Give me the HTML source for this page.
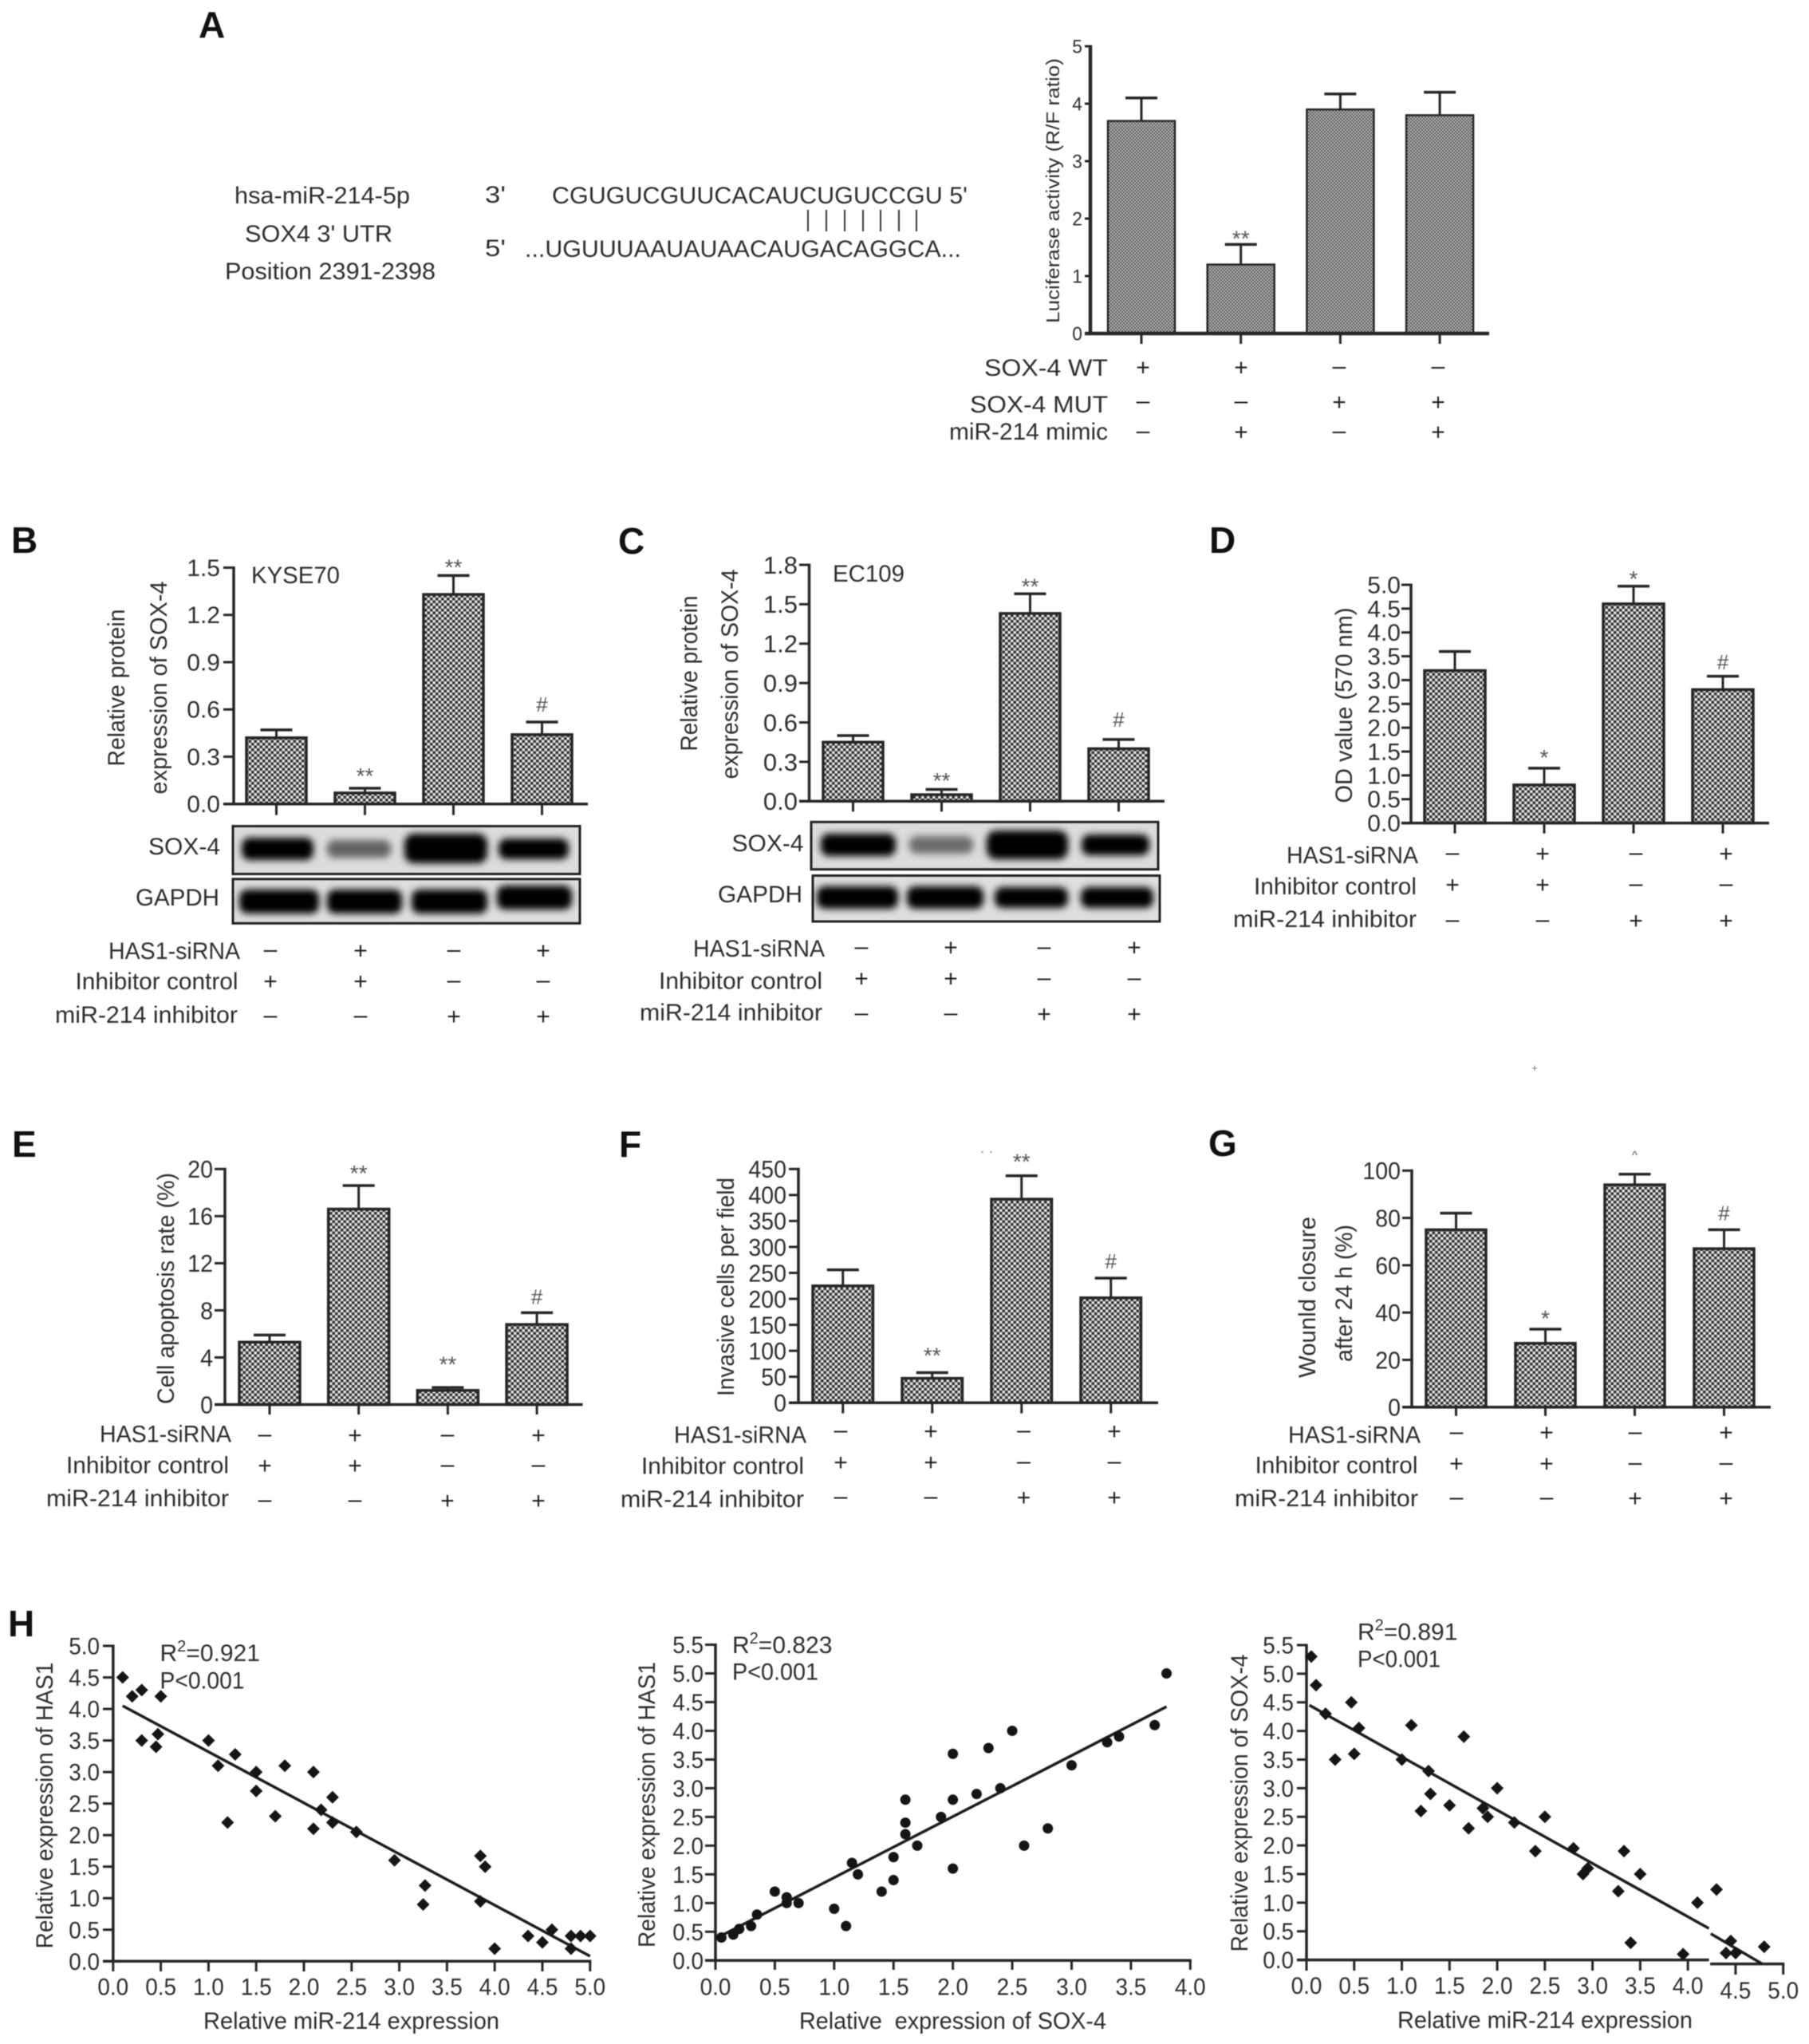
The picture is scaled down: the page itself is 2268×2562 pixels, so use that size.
<!DOCTYPE html>
<html lang="en">
<head>
<meta charset="utf-8">
<title>miR-214, SOX-4 and HAS1 figure</title>
<style>
html,body{margin:0;padding:0;background:#fff;}
#fig{display:block;width:2268px;height:2562px;filter:blur(.6px);}
text{font-family:"Liberation Sans",sans-serif;font-size:30px;fill:#2e2e2e;}
.ltr{font-weight:bold;font-size:46px;fill:#111;}
.kb{font-size:29.5px;}
</style>
</head>
<body>
<svg id="fig" xmlns="http://www.w3.org/2000/svg" width="2268" height="2562" viewBox="0 0 2268 2562">
<defs>
<pattern id="dotsCoarse" width="7" height="7" patternUnits="userSpaceOnUse">
<rect width="7" height="7" fill="#e2e2e2"/><rect width="3.5" height="3.5" fill="#343434"/><rect x="3.5" y="3.5" width="3.5" height="3.5" fill="#343434"/>
</pattern>
<pattern id="dotsFine" width="4" height="4" patternUnits="userSpaceOnUse">
<rect width="4" height="4" fill="#bcbcbc"/><rect width="2" height="2" fill="#585858"/><rect x="2" y="2" width="2" height="2" fill="#585858"/>
</pattern>
<filter id="bandBlur" x="-20%" y="-60%" width="140%" height="220%"><feGaussianBlur stdDeviation="4.6"/></filter>
</defs>
<rect width="2268" height="2562" fill="#fff"/>

<g id="panel-a">
<text class="ltr" x="249" y="47">A</text>
<text x="294" y="255" textLength="220" lengthAdjust="spacingAndGlyphs">hsa-miR-214-5p</text>
<text x="608" y="254" textLength="26" lengthAdjust="spacingAndGlyphs">3'</text>
<text x="692" y="255" textLength="521" lengthAdjust="spacingAndGlyphs">CGUGUCGUUCACAUCUGUCCGU 5'</text>
<g stroke="#333" stroke-width="2">
<line x1="1013" x2="1013" y1="263" y2="290"/><line x1="1036" x2="1036" y1="263" y2="290"/><line x1="1059" x2="1059" y1="263" y2="290"/><line x1="1082" x2="1082" y1="263" y2="290"/><line x1="1104" x2="1104" y1="263" y2="290"/><line x1="1127" x2="1127" y1="263" y2="290"/><line x1="1149" x2="1149" y1="263" y2="290"/>
</g>
<text x="307" y="303" textLength="185" lengthAdjust="spacingAndGlyphs">SOX4 3' UTR</text>
<text x="608" y="321" textLength="26" lengthAdjust="spacingAndGlyphs">5'</text>
<text x="658" y="322" textLength="547" lengthAdjust="spacingAndGlyphs">...UGUUUAAUAUAACAUGACAGGCA...</text>
<text x="282" y="350" textLength="264" lengthAdjust="spacingAndGlyphs">Position 2391-2398</text>
<text transform="translate(1328,239) rotate(-90)" text-anchor="middle" textLength="332" lengthAdjust="spacingAndGlyphs" style="font-size:23px">Luciferase activity (R/F ratio)</text>
<text x="1234" y="471" textLength="155" lengthAdjust="spacingAndGlyphs">SOX-4 WT</text>
<text x="1216" y="517" textLength="173" lengthAdjust="spacingAndGlyphs">SOX-4 MUT</text>
<text x="1190" y="551" textLength="199" lengthAdjust="spacingAndGlyphs">miR-214 mimic</text>
</g>

<g id="panel-b">
<text class="ltr" x="14" y="693">B</text>
<text class="kb" x="315" y="731" textLength="111" lengthAdjust="spacingAndGlyphs">KYSE70</text>
<text transform="translate(156,862) rotate(-90)" text-anchor="middle" textLength="197" lengthAdjust="spacingAndGlyphs">Relative protein</text>
<text transform="translate(209,862) rotate(-90)" text-anchor="middle" textLength="267" lengthAdjust="spacingAndGlyphs">expression of SOX-4</text>
<g>
<rect x="292" y="1035.5" width="435" height="60" fill="#dcdcdc" stroke="#222" stroke-width="3"/>
<g filter="url(#bandBlur)">
<rect x="303" y="1050" width="90" height="28" rx="10" fill="#000"/>
<rect x="410" y="1053" width="80" height="22" rx="9" fill="#000" opacity=".55"/>
<rect x="507" y="1045" width="104" height="37" rx="12" fill="#000"/>
<rect x="625" y="1051" width="88" height="26" rx="10" fill="#000"/>
</g>
</g>
<g>
<rect x="292" y="1101.8" width="435" height="55.5" fill="#dedede" stroke="#222" stroke-width="3"/>
<g filter="url(#bandBlur)">
<rect x="300" y="1115" width="100" height="30" rx="10" fill="#000"/>
<rect x="410" y="1115" width="94" height="30" rx="10" fill="#000"/>
<rect x="516" y="1115" width="95" height="30" rx="10" fill="#000"/>
<rect x="623" y="1110" width="94" height="30" rx="10" fill="#000"/>
</g>
</g>
<text x="186" y="1071" textLength="90" lengthAdjust="spacingAndGlyphs">SOX-4</text>
<text x="170" y="1135" textLength="105" lengthAdjust="spacingAndGlyphs">GAPDH</text>
<text x="136" y="1202" textLength="165" lengthAdjust="spacingAndGlyphs">HAS1-siRNA</text>
<text x="94.5" y="1240" textLength="204" lengthAdjust="spacingAndGlyphs">Inhibitor control</text>
<text x="69" y="1282" textLength="229" lengthAdjust="spacingAndGlyphs">miR-214 inhibitor</text>
</g>

<g id="panel-c">
<text class="ltr" x="775" y="694">C</text>
<text class="kb" x="1044" y="729" textLength="90" lengthAdjust="spacingAndGlyphs">EC109</text>
<text transform="translate(874,844) rotate(-90)" text-anchor="middle" textLength="195" lengthAdjust="spacingAndGlyphs">Relative protein</text>
<text transform="translate(925,845) rotate(-90)" text-anchor="middle" textLength="263" lengthAdjust="spacingAndGlyphs">expression of SOX-4</text>
<g>
<rect x="1017" y="1030.3" width="435" height="59.4" fill="#dcdcdc" stroke="#222" stroke-width="3"/>
<g filter="url(#bandBlur)">
<rect x="1029" y="1045" width="94" height="28" rx="10" fill="#000"/>
<rect x="1140" y="1048" width="80" height="22" rx="9" fill="#000" opacity=".5"/>
<rect x="1237" y="1041" width="102" height="36" rx="12" fill="#000"/>
<rect x="1356" y="1046" width="85" height="26" rx="10" fill="#000"/>
</g>
</g>
<g>
<rect x="1019" y="1097.5" width="435" height="57.5" fill="#dedede" stroke="#222" stroke-width="3"/>
<g filter="url(#bandBlur)">
<rect x="1024" y="1111" width="102" height="28" rx="10" fill="#000"/>
<rect x="1137" y="1111" width="96" height="28" rx="10" fill="#000"/>
<rect x="1247" y="1112" width="92" height="26" rx="10" fill="#000"/>
<rect x="1355" y="1112" width="91" height="26" rx="10" fill="#000"/>
</g>
</g>
<text x="917.5" y="1067" textLength="90" lengthAdjust="spacingAndGlyphs">SOX-4</text>
<text x="900" y="1131" textLength="106" lengthAdjust="spacingAndGlyphs">GAPDH</text>
<text x="869" y="1199" textLength="165" lengthAdjust="spacingAndGlyphs">HAS1-siRNA</text>
<text x="826" y="1239.5" textLength="205" lengthAdjust="spacingAndGlyphs">Inhibitor control</text>
<text x="802" y="1279" textLength="229" lengthAdjust="spacingAndGlyphs">miR-214 inhibitor</text>
</g>

<g id="panel-d">
<text class="ltr" x="1516" y="693">D</text>
<text transform="translate(1695,884) rotate(-90)" text-anchor="middle" textLength="245" lengthAdjust="spacingAndGlyphs">OD value (570 nm)</text>
<text x="1613" y="1082" textLength="165" lengthAdjust="spacingAndGlyphs">HAS1-siRNA</text>
<text x="1572" y="1121" textLength="204" lengthAdjust="spacingAndGlyphs">Inhibitor control</text>
<text x="1546" y="1162" textLength="230" lengthAdjust="spacingAndGlyphs">miR-214 inhibitor</text>
<text x="1924" y="1343" text-anchor="middle" style="font-size:13px;fill:#777">+</text>
</g>

<g id="panel-e">
<text class="ltr" x="15" y="1450">E</text>
<text transform="translate(218,1615) rotate(-90)" text-anchor="middle" textLength="290" lengthAdjust="spacingAndGlyphs">Cell apoptosis rate (%)</text>
<text x="125" y="1807.5" textLength="165" lengthAdjust="spacingAndGlyphs">HAS1-siRNA</text>
<text x="83" y="1846.5" textLength="204" lengthAdjust="spacingAndGlyphs">Inhibitor control</text>
<text x="58" y="1888" textLength="229" lengthAdjust="spacingAndGlyphs">miR-214 inhibitor</text>
</g>

<g id="panel-f">
<text class="ltr" x="776" y="1450">F</text>
<text transform="translate(920,1613) rotate(-90)" text-anchor="middle" textLength="274" lengthAdjust="spacingAndGlyphs">Invasive cells per field</text>
<text x="845" y="1808.5" textLength="166" lengthAdjust="spacingAndGlyphs">HAS1-siRNA</text>
<text x="804" y="1847.5" textLength="204" lengthAdjust="spacingAndGlyphs">Inhibitor control</text>
<text x="778" y="1889" textLength="230" lengthAdjust="spacingAndGlyphs">miR-214 inhibitor</text>
<text x="1237" y="1449" text-anchor="middle" style="font-size:18px;fill:#888">· ·</text>
</g>

<g id="panel-g">
<text class="ltr" x="1515" y="1449">G</text>
<text transform="translate(1649,1626) rotate(-90)" text-anchor="middle" textLength="202" lengthAdjust="spacingAndGlyphs">Wounld closure</text>
<text transform="translate(1695,1621) rotate(-90)" text-anchor="middle" textLength="172" lengthAdjust="spacingAndGlyphs">after 24 h (%)</text>
<text x="1615" y="1808.5" textLength="166" lengthAdjust="spacingAndGlyphs">HAS1-siRNA</text>
<text x="1573.5" y="1846.5" textLength="204" lengthAdjust="spacingAndGlyphs">Inhibitor control</text>
<text x="1548" y="1888" textLength="230" lengthAdjust="spacingAndGlyphs">miR-214 inhibitor</text>
</g>

<g id="panel-h1">
<text class="ltr" x="10" y="2051">H</text>
<text transform="translate(66,2263) rotate(-90)" text-anchor="middle" textLength="359" lengthAdjust="spacingAndGlyphs">Relative expression of HAS1</text>
<text x="255" y="2543" textLength="371" lengthAdjust="spacingAndGlyphs">Relative miR-214 expression</text>
<text x="200.5" y="2082">R<tspan dy="-12" style="font-size:20px">2</tspan><tspan dy="12">=0.921</tspan></text>
<text x="200.5" y="2116.5" textLength="106" lengthAdjust="spacingAndGlyphs">P&lt;0.001</text>
</g>

<g id="panel-h2">
<text transform="translate(821,2262) rotate(-90)" text-anchor="middle" textLength="358" lengthAdjust="spacingAndGlyphs">Relative expression of HAS1</text>
<text x="1002" y="2543" textLength="385" lengthAdjust="spacingAndGlyphs" xml:space="preserve">Relative  expression of SOX-4</text>
<text x="918" y="2072">R<tspan dy="-12" style="font-size:20px">2</tspan><tspan dy="12">=0.823</tspan></text>
<text x="918" y="2105.5" textLength="108" lengthAdjust="spacingAndGlyphs">P&lt;0.001</text>
</g>

<g id="panel-h3">
<text transform="translate(1564,2260) rotate(-90)" text-anchor="middle" textLength="373" lengthAdjust="spacingAndGlyphs">Relative expression of SOX-4</text>
<text x="1752" y="2542" textLength="370" lengthAdjust="spacingAndGlyphs">Relative miR-214 expression</text>
<text x="1702" y="2055.5">R<tspan dy="-12" style="font-size:20px">2</tspan><tspan dy="12">=0.891</tspan></text>
<text x="1702" y="2089.5" textLength="104" lengthAdjust="spacingAndGlyphs">P&lt;0.001</text>
</g>
</svg>

<script>
// Panel A
const aValues = [3.7, 1.2, 3.9, 3.8];
const aErrorTops = [4.1, 1.55, 4.17, 4.2];
const aTickLabels = ['0', '1', '2', '3', '4', '5'];
const aMarks = ['', '**', '', ''];
const aMarkGaps = [0, 14, 0, 0];
const aRowWT = ['+', '+', '-', '-'];
const aRowMUT = ['-', '-', '+', '+'];
const aRowMimic = ['-', '+', '-', '+'];
// Panel B
const bValues = [0.42, 0.07, 1.33, 0.44];
const bErrorTops = [0.47, 0.10, 1.45, 0.52];
const bTickLabels = ['0.0', '0.3', '0.6', '0.9', '1.2', '1.5'];
const bMarks = ['', '**', '**', '#'];
const bMarkGaps = [0, 22, 17, 22];
// Panel C
const cValues = [0.45, 0.05, 1.43, 0.40];
const cErrorTops = [0.50, 0.09, 1.58, 0.47];
const cTickLabels = ['0.0', '0.3', '0.6', '0.9', '1.2', '1.5', '1.8'];
const cMarks = ['', '**', '**', '#'];
const cMarkGaps = [0, 17.5, 16, 25];
// Panel D
const dValues = [3.2, 0.8, 4.6, 2.8];
const dErrorTops = [3.6, 1.15, 4.97, 3.08];
const dTickLabels = ['0.0', '0.5', '1.0', '1.5', '2.0', '2.5', '3.0', '3.5', '4.0', '4.5', '5.0'];
const dMarks = ['', '*', '*', '#'];
const dMarkGaps = [0, 20, 16, 18];
// Panel E
const eValues = [5.3, 16.6, 1.2, 6.8];
const eErrorTops = [5.9, 18.6, 1.45, 7.8];
const eTickLabels = ['0', '4', '8', '12', '16', '20'];
const eMarks = ['', '**', '**', '#'];
const eMarkGaps = [0, 22, 35.5, 20];
// Panel F
const fValues = [225, 47, 392, 202];
const fErrorTops = [256, 58, 437, 240];
const fTickLabels = ['0', '50', '100', '150', '200', '250', '300', '350', '400', '450'];
const fMarks = ['', '**', '**', '#'];
const fMarkGaps = [0, 28, 24.6, 21];
// Panel G
const gValues = [75, 27, 94, 67];
const gErrorTops = [82, 33, 98.5, 75];
const gTickLabels = ['0', '20', '40', '60', '80', '100'];
const gMarks = ['', '*', '^', '#'];
const gMarkGaps = [0, 20, 26, 21];
// Shared treatment rows for panels B to G
const rowHas1 = ['-', '+', '-', '+'];
const rowControl = ['+', '+', '-', '-'];
const rowInhibitor = ['-', '-', '+', '+'];
// Panel H scatter data
const h1X = [0.1, 0.2, 0.3, 0.5, 0.3, 0.45, 0.47, 1.0, 1.1, 1.28, 1.2, 1.5, 1.5, 1.7, 1.8, 2.1, 2.1, 2.18, 2.3, 2.3, 2.55, 2.95, 3.25, 3.27, 3.85, 3.9, 3.85, 4.0, 4.35, 4.5, 4.6, 4.8, 4.8, 4.9, 5.0];
const h1Y = [4.5, 4.2, 4.3, 4.2, 3.5, 3.4, 3.6, 3.5, 3.1, 3.28, 2.2, 3.0, 2.7, 2.3, 3.1, 3.0, 2.1, 2.4, 2.6, 2.2, 2.05, 1.6, 0.9, 1.2, 1.67, 1.5, 0.95, 0.2, 0.4, 0.3, 0.5, 0.2, 0.4, 0.4, 0.4];
const h1FitX = [0.1, 5.0];
const h1FitY = [4.05, 0.08];
const h1XLabels = ['0.0', '0.5', '1.0', '1.5', '2.0', '2.5', '3.0', '3.5', '4.0', '4.5', '5.0'];
const h1YLabels = ['0.0', '0.5', '1.0', '1.5', '2.0', '2.5', '3.0', '3.5', '4.0', '4.5', '5.0'];
const h2X = [0.05, 0.15, 0.2, 0.3, 0.35, 0.5, 0.6, 0.6, 0.7, 1.0, 1.1, 1.15, 1.2, 1.4, 1.5, 1.5, 1.6, 1.6, 1.6, 1.7, 1.9, 2.0, 2.0, 2.0, 2.2, 2.3, 2.4, 2.5, 2.6, 2.8, 3.0, 3.3, 3.4, 3.7, 3.8];
const h2Y = [0.4, 0.45, 0.55, 0.6, 0.8, 1.2, 1.1, 1.0, 1.0, 0.9, 0.6, 1.7, 1.5, 1.2, 1.8, 1.4, 2.8, 2.4, 2.2, 2.0, 2.5, 3.6, 2.8, 1.6, 2.9, 3.7, 3.0, 4.0, 2.0, 2.3, 3.4, 3.8, 3.9, 4.1, 5.0];
const h2FitX = [0.0, 3.8];
const h2FitY = [0.38, 4.42];
const h2XLabels = ['0.0', '0.5', '1.0', '1.5', '2.0', '2.5', '3.0', '3.5', '4.0'];
const h2YLabels = ['0.0', '0.5', '1.0', '1.5', '2.0', '2.5', '3.0', '3.5', '4.0', '4.5', '5.0', '5.5'];
const h3X = [0.05, 0.1, 0.2, 0.3, 0.47, 0.5, 0.55, 1.0, 1.1, 1.2, 1.28, 1.3, 1.5, 1.65, 1.7, 1.85, 1.9, 2.0, 2.18, 2.4, 2.5, 2.8, 2.9, 2.95, 3.27, 3.33, 3.4, 3.5, 3.95, 4.1, 4.3, 4.4, 4.45, 4.5, 4.8];
const h3Y = [5.3, 4.8, 4.3, 3.5, 4.5, 3.6, 4.05, 3.5, 4.1, 2.6, 3.3, 2.9, 2.7, 3.9, 2.3, 2.65, 2.5, 3.0, 2.4, 1.9, 2.5, 1.95, 1.5, 1.6, 1.2, 1.9, 0.3, 1.5, 0.1, 1.0, 1.23, 0.12, 0.33, 0.12, 0.23];
const h3FitUpperX = [0.03, 4.22];
const h3FitUpperY = [4.45, 0.55];
const h3FitLowerX = [4.24, 4.78];
const h3FitLowerY = [0.458, -0.07];
const h3XLabels = ['0.0', '0.5', '1.0', '1.5', '2.0', '2.5', '3.0', '3.5', '4.0', '4.5', '5.0'];
const h3YLabels = ['0.0', '0.5', '1.0', '1.5', '2.0', '2.5', '3.0', '3.5', '4.0', '4.5', '5.0', '5.5'];

const NS = 'http://www.w3.org/2000/svg';
const INK = '#262626';

function mk(parent, tag, attrs) {
  const el = document.createElementNS(NS, tag);
  for (const k in attrs) el.setAttribute(k, attrs[k]);
  parent.appendChild(el);
  return el;
}
function lineEl(parent, x1, y1, x2, y2, w, name) {
  const el = mk(parent, 'line', {x1: x1, y1: y1, x2: x2, y2: y2, stroke: INK, 'stroke-width': w});
  
  
  return el;
}
function textEl(parent, x, y, str, size, anchor, squeeze, fill, name) {
  const el = mk(parent, 'text', {x: x, y: y, 'text-anchor': anchor});
  el.style.fontSize = size + 'px';
  if (fill) el.style.fill = fill;
  el.textContent = str;
  
  
  if (squeeze !== 1) {
    el.setAttribute('textLength', (el.getComputedTextLength() * squeeze).toFixed(1));
    el.setAttribute('lengthAdjust', 'spacingAndGlyphs');
  }
  return el;
}
function linear(d0, d1, r0, r1) {
  return function (v) { return r0 + (v - d0) * (r1 - r0) / (d1 - d0); };
}

function barPanel(p) {
  const g = document.getElementById('panel-' + p.id);
  const ticks = p.tickLabels.map(parseFloat);
  const y = linear(ticks[0], ticks[ticks.length - 1], p.yBottom, p.yTop);
  p.values.forEach(function (v, i) {
    const left = p.barStart + p.barStep * i;
    const cx = left + p.barWidth / 2;
    const bar = mk(g, 'rect', {x: left, y: y(v), width: p.barWidth, height: p.yBottom - y(v), fill: 'url(#' + p.pattern + ')', stroke: INK, 'stroke-width': p.barStroke});
    
    
    lineEl(g, cx, y(v), cx, y(p.errors[i]), 3, 'error-stem-' + p.id + '-' + (i + 1));
    lineEl(g, cx - 20, y(p.errors[i]), cx + 20, y(p.errors[i]), 3.5, 'error-cap-' + p.id + '-' + (i + 1));
    lineEl(g, cx, p.yBottom, cx, p.tickBottom, 3, 'x-tick-' + p.id + '-' + (i + 1));
    const mark = p.marks[i];
    if (mark) {
      const size = mark === '#' ? 26 : (mark === '^' ? 15 : 28);
      const lift = mark === '#' ? 0.35 : (mark === '^' ? 0.5 : 0.575);
      const base = y(p.errors[i]) - p.gaps[i] + lift * size;
      textEl(g, cx, base, mark, size, 'middle', 1, '#555', 'significance-mark-' + p.id + '-' + (i + 1));
    }
  });
  lineEl(g, p.axisX, p.yTop - 1.5, p.axisX, p.yBottom, p.axisWidth, 'y-axis-' + p.id);
  lineEl(g, p.axisLeft, p.yBottom, p.axisRight, p.yBottom, p.axisWidth, 'x-axis-' + p.id);
  p.tickLabels.forEach(function (label, i) {
    const ty = y(ticks[i]);
    lineEl(g, p.axisLeft, ty, p.axisX, ty, 3, 'y-tick-' + p.id + '-' + label);
    textEl(g, p.labelRight, ty + p.fontSize * 0.35, label, p.fontSize, 'end', p.squeeze, null, 'y-tick-label-' + p.id + '-' + label);
  });
  p.rows.forEach(function (row, r) {
    row.forEach(function (sign, i) {
      const isPlus = sign === '+';
      const base = p.signY[r] + (isPlus ? 0.33 : 0.27) * 30;
      textEl(g, p.signX[i], base, isPlus ? '+' : '\u2013', 30, 'middle', 1, '#222', 'treatment-sign-' + p.id + '-r' + (r + 1) + '-c' + (i + 1));
    });
  });
}

barPanel({id: 'a', values: aValues, errors: aErrorTops, tickLabels: aTickLabels, marks: aMarks, gaps: aMarkGaps,
  yTop: 58, yBottom: 418, axisX: 1367, axisLeft: 1360, axisRight: 1867, tickBottom: 431, labelRight: 1357, fontSize: 24, squeeze: 0.95,
  barStart: 1389, barStep: 124.7, barWidth: 84, pattern: 'dotsFine', barStroke: 2.5, axisWidth: 4.5,
  rows: [aRowWT, aRowMUT, aRowMimic], signX: [1433, 1556, 1679, 1803], signY: [460.5, 504, 541.5]});
barPanel({id: 'b', values: bValues, errors: bErrorTops, tickLabels: bTickLabels, marks: bMarks, gaps: bMarkGaps,
  yTop: 711.5, yBottom: 1007.7, axisX: 293, axisLeft: 280, axisRight: 737, tickBottom: 1021.6, labelRight: 276, fontSize: 30, squeeze: 1,
  barStart: 309, barStep: 111, barWidth: 75, pattern: 'dotsCoarse', barStroke: 3.5, axisWidth: 3.5,
  rows: [rowHas1, rowControl, rowInhibitor], signX: [339, 452, 569, 681], signY: [1191.6, 1230, 1274]});
barPanel({id: 'c', values: cValues, errors: cErrorTops, tickLabels: cTickLabels, marks: cMarks, gaps: cMarkGaps,
  yTop: 708, yBottom: 1004.3, axisX: 1014.5, axisLeft: 1002, axisRight: 1460, tickBottom: 1017.3, labelRight: 1000, fontSize: 31, squeeze: 1,
  barStart: 1032, barStep: 111, barWidth: 75, pattern: 'dotsCoarse', barStroke: 3.5, axisWidth: 3.5,
  rows: [rowHas1, rowControl, rowInhibitor], signX: [1080, 1192, 1309, 1422], signY: [1187.7, 1226.7, 1271]});
barPanel({id: 'd', values: dValues, errors: dErrorTops, tickLabels: dTickLabels, marks: dMarks, gaps: dMarkGaps,
  yTop: 733, yBottom: 1031.6, axisX: 1769, axisLeft: 1757, axisRight: 2218, tickBottom: 1044.6, labelRight: 1756, fontSize: 30, squeeze: 1,
  barStart: 1786, barStep: 112, barWidth: 76, pattern: 'dotsCoarse', barStroke: 3.5, axisWidth: 3.5,
  rows: [rowHas1, rowControl, rowInhibitor], signX: [1821, 1934, 2051, 2164], signY: [1070, 1109, 1154]});
barPanel({id: 'e', values: eValues, errors: eErrorTops, tickLabels: eTickLabels, marks: eMarks, gaps: eMarkGaps,
  yTop: 1465.3, yBottom: 1760.5, axisX: 282, axisLeft: 269, axisRight: 730.5, tickBottom: 1773, labelRight: 267, fontSize: 31, squeeze: 0.92,
  barStart: 300, barStep: 111.7, barWidth: 76, pattern: 'dotsCoarse', barStroke: 3.5, axisWidth: 3.5,
  rows: [rowHas1, rowControl, rowInhibitor], signX: [332, 445, 561, 675], signY: [1799, 1837, 1881]});
barPanel({id: 'f', values: fValues, errors: fErrorTops, tickLabels: fTickLabels, marks: fMarks, gaps: fMarkGaps,
  yTop: 1465.3, yBottom: 1758.2, axisX: 1001, axisLeft: 989, axisRight: 1452, tickBottom: 1771.5, labelRight: 986, fontSize: 31, squeeze: 0.92,
  barStart: 1019, barStep: 112, barWidth: 75.5, pattern: 'dotsCoarse', barStroke: 3.5, axisWidth: 3.5,
  rows: [rowHas1, rowControl, rowInhibitor], signX: [1054, 1167, 1283.5, 1397], signY: [1794, 1833, 1877]});
barPanel({id: 'g', values: gValues, errors: gErrorTops, tickLabels: gTickLabels, marks: gMarks, gaps: gMarkGaps,
  yTop: 1467.3, yBottom: 1763.8, axisX: 1770, axisLeft: 1758, axisRight: 2220, tickBottom: 1774.8, labelRight: 1756, fontSize: 31, squeeze: 0.92,
  barStart: 1788, barStep: 112, barWidth: 75, pattern: 'dotsCoarse', barStroke: 3.5, axisWidth: 3.5,
  rows: [rowHas1, rowControl, rowInhibitor], signX: [1826, 1939, 2050, 2164], signY: [1795.7, 1834.5, 1878]});

function scatterPanel(p) {
  const g = document.getElementById('panel-' + p.id);
  const xv = p.xLabels.map(parseFloat);
  const yv = p.yLabels.map(parseFloat);
  const x = linear(xv[0], xv[xv.length - 1], p.xLeft, p.xRight);
  const y = linear(yv[0], yv[yv.length - 1], p.yBottom, p.yTop);
  lineEl(g, p.xLeft, p.yTop - 1.5, p.xLeft, p.yBottom, 3.5, 'y-axis-' + p.id);
  if (p.breakAt === undefined) {
    lineEl(g, p.tickLeft, p.yBottom, p.xRight + 1.5, p.yBottom, 3.5, 'x-axis-' + p.id);
  } else {
    lineEl(g, p.tickLeft, p.yBottom, p.breakAt, p.yBottom, 3.5, 'x-axis-left-segment-' + p.id);
    lineEl(g, p.breakAt + 1.5, p.yBottom + p.breakShift, p.xRight + 1.5, p.yBottom + p.breakShift, 3.5, 'x-axis-right-segment-' + p.id);
  }
  p.yLabels.forEach(function (label, i) {
    const ty = y(yv[i]);
    lineEl(g, p.tickLeft, ty, p.xLeft, ty, 3, 'y-tick-' + p.id + '-' + label);
    textEl(g, p.labelRight, ty + 10.5, label, 30, 'end', 0.93, null, 'y-tick-label-' + p.id + '-' + label);
  });
  p.xLabels.forEach(function (label, i) {
    const tx = x(xv[i]);
    const shifted = p.breakAt !== undefined && tx > p.breakAt;
    const dy = shifted ? p.breakShift : 0;
    lineEl(g, tx, p.yBottom + dy, tx, p.tickBottom + dy, 3, 'x-tick-' + p.id + '-' + label);
    textEl(g, tx, p.xLabelBase + (shifted ? p.breakShift + 1 : 0), label, 30, 'middle', 0.93, null, 'x-tick-label-' + p.id + '-' + label);
  });
  p.fits.forEach(function (fit, k) {
    const fl = lineEl(g, x(fit.xs[0]), y(fit.ys[0]), x(fit.xs[1]), y(fit.ys[1]), 3.5, 'fit-line-' + p.id + '-' + (k + 1));
    fl.setAttribute('stroke', '#1c1c1c');
  });
  p.xs.forEach(function (xval, i) {
    const cx = x(xval);
    const cy = y(p.ys[i]);
    let pt;
    if (p.marker === 'circle') {
      pt = mk(g, 'circle', {cx: cx, cy: cy, r: 6.5, fill: '#151515'});
    } else {
      const s = 8;
      pt = mk(g, 'polygon', {points: cx + ',' + (cy - s) + ' ' + (cx + s) + ',' + cy + ' ' + cx + ',' + (cy + s) + ' ' + (cx - s) + ',' + cy, fill: '#151515'});
    }
    
    
  });
}

scatterPanel({id: 'h1', xs: h1X, ys: h1Y, fits: [{xs: h1FitX, ys: h1FitY}], xLabels: h1XLabels, yLabels: h1YLabels, marker: 'diamond',
  xLeft: 141.8, xRight: 739.8, yBottom: 2458.3, yTop: 2063, tickLeft: 129, tickBottom: 2471, labelRight: 125, xLabelBase: 2500.5});
scatterPanel({id: 'h2', xs: h2X, ys: h2Y, fits: [{xs: h2FitX, ys: h2FitY}], xLabels: h2XLabels, yLabels: h2YLabels, marker: 'circle',
  xLeft: 897, xRight: 1492.3, yBottom: 2457.3, yTop: 2061.5, tickLeft: 884, tickBottom: 2469, labelRight: 882, xLabelBase: 2500.5});
scatterPanel({id: 'h3', xs: h3X, ys: h3Y, fits: [{xs: h3FitUpperX, ys: h3FitUpperY}, {xs: h3FitLowerX, ys: h3FitLowerY}], xLabels: h3XLabels, yLabels: h3YLabels, marker: 'diamond',
  xLeft: 1638, xRight: 2235.7, yBottom: 2456.6, yTop: 2062, tickLeft: 1626, tickBottom: 2470, labelRight: 1622, xLabelBase: 2499, breakAt: 2142.6, breakShift: 5});
</script>
</body>
</html>
